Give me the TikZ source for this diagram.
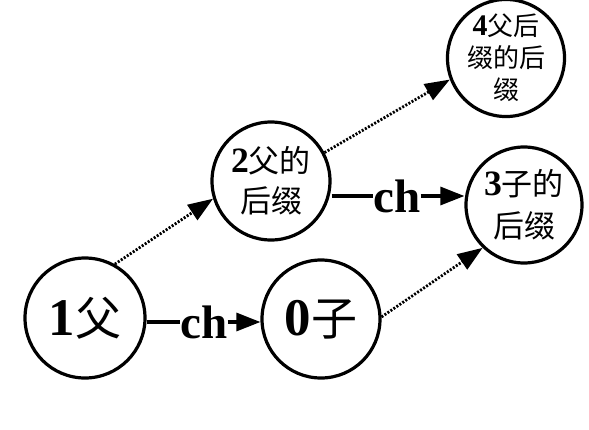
\documentclass[tikz,border=0pt]{standalone}
\usepackage{fontspec}
\setmainfont{Liberation Serif}
\newfontfamily\cjk{Noto Sans CJK SC}
\usetikzlibrary{arrows.meta}
\newcommand{\zh}[1]{{\cjk #1}}
\newcommand{\dg}[1]{{\bfseries\scalebox{1.15}{#1}}}
\begin{document}
\begin{tikzpicture}[x=1pt,y=-1pt,
  state/.style={circle,draw,line width=3.2pt,inner sep=0pt,align=center},
  lbl/.style={inner sep=0pt,font=\fontsize{47}{47}\selectfont\bfseries},
  solidarrow/.style={line width=3.2pt,-{Triangle[length=24pt,width=18pt]}},
  solidline/.style={line width=3.2pt},
  dotarrow/.style={line width=2.8pt,dash pattern=on 2pt off 1.6pt,-{Triangle[length=25pt,width=18pt]}}
]
\useasboundingbox (0,0) rectangle (589,429);
\node[state,minimum size=120pt,font=\fontsize{46}{46}\selectfont] (n1) at (85,318) {\dg{1}\zh{父}};
\node[state,minimum size=118pt,font=\fontsize{46}{46}\selectfont] (n0) at (321,319) {\dg{0}\zh{子}};
\node[state,minimum size=118pt,font=\fontsize{31}{40}\selectfont] (n2) at (271,181) {\dg{2}\zh{父的}\\\zh{后缀}};
\node[state,minimum size=116pt,font=\fontsize{31}{42}\selectfont] (n3) at (524,205) {\dg{3}\zh{子的}\\\zh{后缀}};
\node[state,minimum size=106pt,font=\fontsize{26}{32}\selectfont] (n4) at (506,58) {\dg{4}\zh{父后}\\\zh{缀的后}\\\zh{缀}};
\node[lbl] (ch1) at (204,322) {ch};
\node[lbl] (ch2) at (397,196) {ch};
\draw[solidline] (n1.east |- ch1.west) -- (ch1.west);
\draw[solidarrow] (ch1.east) -- (n0.west |- ch1.east);
\draw[solidline] (n2.east |- ch2.west) -- (ch2.west);
\draw[solidarrow] (ch2.east) -- (n3.west |- ch2.east);
\draw[dotarrow] (n1.61) -- (n2.197);
\draw[dotarrow] (n2.28) -- (n4.201);
\draw[dotarrow] (n0.2) -- (n3.226);
\end{tikzpicture}
\end{document}
